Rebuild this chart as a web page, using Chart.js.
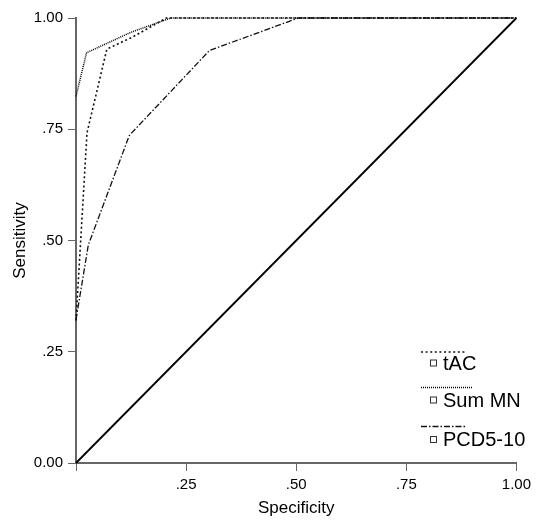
<!DOCTYPE html>
<html>
<head>
<meta charset="utf-8">
<title>ROC curves</title>
<script src="https://cdn.jsdelivr.net/npm/chart.js@4/dist/chart.umd.min.js"></script>
<style>
  html, body { margin: 0; padding: 0; background: #fff; }
  #wrap { width: 536px; height: 520px; }
</style>
</head>
<body>
<div id="wrap"><canvas id="roc" width="536" height="520"></canvas></div>
<script>
// Series names, in legend order
const seriesNames = ['tAC', 'Sum MN', 'PCD5-10'];

// ROC points: specificity axis value and sensitivity per series
const tacSpec = [0, 0.025, 0.07, 0.13, 0.205, 1];
const tacSens = [0.32, 0.742, 0.93, 0.958, 1, 1];

const sumMnSpec = [0, 0.024, 0.125, 0.215, 1];
const sumMnSens = [0.824, 0.922, 0.968, 1, 1];

const pcdSpec = [0, 0.028, 0.121, 0.303, 0.505, 1];
const pcdSens = [0.322, 0.49, 0.736, 0.927, 1, 1];

// Chance line
const refSpec = [0, 1];
const refSens = [0, 1];

// Axis ticks
const tickValues = [0, 0.25, 0.5, 0.75, 1];
const xTickLabels = ['', '.25', '.50', '.75', '1.00'];
const yTickLabels = ['0.00', '.25', '.50', '.75', '1.00'];

const toPoints = (xs, ys) => xs.map((x, i) => ({ x: x, y: ys[i] }));

Chart.defaults.font.family = '"Liberation Sans", Arial, Helvetica, sans-serif';
Chart.defaults.color = '#000';

// Legend: dash sample above, small open square and name below
const rocLegend = {
  id: 'rocLegend',
  afterDraw(chart) {
    const ctx = chart.ctx;
    const rows = [
      { line: 352, text: 363, len: 44 },
      { line: 387.5, text: 400, len: 52 },
      { line: 426.5, text: 439.5, len: 44 }
    ];
    const left = 421, markX = 433.5, textX = 443;
    ctx.save();
    seriesNames.forEach((name, i) => {
      const ds = chart.data.datasets[i];
      const r = rows[i];
      ctx.beginPath();
      ctx.setLineDash(ds.borderDash || []);
      ctx.lineWidth = ds.borderWidth;
      ctx.strokeStyle = ds.borderColor;
      ctx.moveTo(left, r.line);
      ctx.lineTo(left + r.len, r.line);
      ctx.stroke();
      ctx.setLineDash([]);
      ctx.lineWidth = 1;
      ctx.strokeStyle = '#333';
      ctx.strokeRect(markX - 3, r.text - 3, 6, 6);
      ctx.fillStyle = '#000';
      ctx.font = '20px "Liberation Sans", Arial, sans-serif';
      ctx.textAlign = 'left';
      ctx.textBaseline = 'middle';
      ctx.fillText(name, textX, r.text + 1);
    });
    ctx.restore();
  }
};

const lineDefaults = { showLine: true, pointRadius: 0, pointHoverRadius: 0, fill: false, tension: 0, clip: false };

new Chart(document.getElementById('roc'), {
  type: 'scatter',
  data: {
    datasets: [
      Object.assign({ label: seriesNames[0], data: toPoints(tacSpec, tacSens),
        borderColor: '#111', borderWidth: 1.6, borderDash: [2, 2.6] }, lineDefaults),
      Object.assign({ label: seriesNames[1], data: toPoints(sumMnSpec, sumMnSens),
        borderColor: '#000', borderWidth: 1.5, borderDash: [1, 1] }, lineDefaults),
      Object.assign({ label: seriesNames[2], data: toPoints(pcdSpec, pcdSens),
        borderColor: '#111', borderWidth: 1.3, borderDash: [6, 2, 1.5, 2] }, lineDefaults),
      Object.assign({ label: 'reference', data: toPoints(refSpec, refSens),
        borderColor: '#000', borderWidth: 1.8 }, lineDefaults)
    ]
  },
  options: {
    responsive: false,
    animation: false,
    devicePixelRatio: 1,
    layout: { padding: { top: 18, right: 18, left: 0, bottom: 0 } },
    plugins: { legend: { display: false }, tooltip: { enabled: false } },
    scales: {
      x: {
        type: 'linear', min: 0, max: 1,
        afterBuildTicks: s => { s.ticks = tickValues.map(v => ({ value: v })); },
        afterFit: s => { s.height = 57; },
        ticks: {
          autoSkip: false, maxRotation: 0, padding: 5,
          font: { size: 15 }, color: '#000',
          callback: (v, i) => xTickLabels[i]
        },
        grid: { drawOnChartArea: false, drawTicks: true, tickLength: 8, tickColor: '#666', tickWidth: 1 },
        border: { display: true, color: '#666', width: 2 },
        title: { display: true, text: 'Specificity', font: { size: 17 }, color: '#000', padding: { top: 0, bottom: 1 } }
      },
      y: {
        type: 'linear', min: 0, max: 1,
        afterBuildTicks: s => { s.ticks = tickValues.map(v => ({ value: v })); },
        afterFit: s => { s.width = 76; },
        ticks: {
          autoSkip: false, padding: 5,
          font: { size: 15 }, color: '#000',
          callback: (v, i) => yTickLabels[i]
        },
        grid: { drawOnChartArea: false, drawTicks: true, tickLength: 8, tickColor: '#666', tickWidth: 1 },
        border: { display: true, color: '#666', width: 2 },
        title: { display: true, text: 'Sensitivity', font: { size: 17 }, color: '#000', padding: { top: 10, bottom: 0 } }
      }
    }
  },
  plugins: [rocLegend]
});
</script>
</body>
</html>
